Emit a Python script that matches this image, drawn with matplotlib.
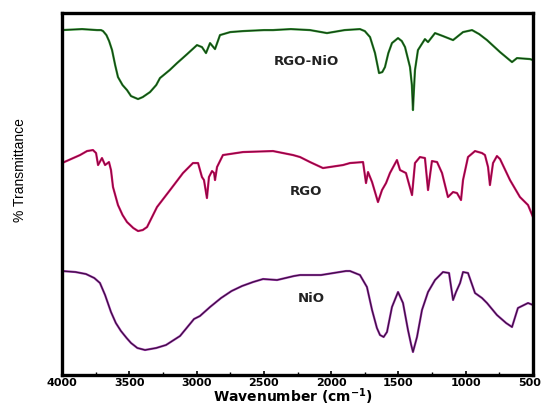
import matplotlib
matplotlib.use("Agg")
import matplotlib.pyplot as plt
import matplotlib.transforms as mtransforms
from matplotlib.ticker import MultipleLocator

# wavenumber (cm-1) and transmittance (arbitrary units, stacked)
wn_rgo_nio = [4000, 3851, 3740, 3710, 3695, 3670, 3650, 3628, 3605, 3584, 3550, 3517, 3487, 3435,
              3400, 3346, 3300, 3272, 3200, 3145, 3070, 2997, 2960, 2930, 2900, 2863, 2826, 2750,
              2655, 2500, 2432, 2300, 2157, 2031, 1900, 1786, 1750, 1711, 1674, 1644, 1620, 1600,
              1575, 1548, 1503, 1475, 1451, 1414, 1400, 1392, 1385, 1377, 1355, 1303, 1280, 1228,
              1169, 1094, 1020, 953, 900, 842, 745, 656, 619, 522, 500]
t_rgo_nio = [345, 346, 345, 345, 344, 340, 334, 325, 310, 298, 290, 285, 279, 276,
             278, 283, 290, 297, 305, 312, 321, 330, 328, 322, 332, 326, 340, 343,
             344, 345, 345, 346, 345, 342, 345, 346, 344, 338, 322, 302, 303, 308,
             322, 332, 337, 334, 328, 308, 290, 265, 285, 305, 325, 336, 333, 342,
             339, 335, 343, 345, 341, 335, 323, 313, 317, 316, 315]

wn_rgo = [4000, 3866, 3814, 3770, 3747, 3732, 3703, 3680, 3651, 3636, 3621, 3584, 3550, 3517,
          3470, 3435, 3400, 3368, 3294, 3197, 3101, 3027, 2989, 2960, 2945, 2923, 2908, 2885,
          2870, 2863, 2848, 2804, 2655, 2432, 2283, 2231, 2157, 2061, 1912, 1860, 1763, 1741,
          1726, 1696, 1652, 1622, 1592, 1563, 1511, 1488, 1444, 1399, 1377, 1340, 1303, 1280,
          1251, 1213, 1176, 1132, 1094, 1065, 1035, 1020, 983, 931, 879, 857, 834, 820,
          797, 768, 745, 671, 597, 537, 500]
t_rgo = [212, 220, 224, 225, 222, 210, 217, 210, 213, 205, 188, 170, 160, 153,
         147, 144, 145, 148, 168, 185, 202, 212, 212, 198, 195, 177, 198, 204,
         202, 195, 208, 220, 223, 224, 220, 218, 213, 207, 210, 212, 213, 192,
         203, 193, 173, 185, 192, 202, 215, 205, 202, 180, 212, 218, 217, 185,
         214, 213, 202, 178, 183, 182, 175, 195, 218, 224, 222, 220, 208, 190,
         212, 219, 216, 195, 178, 170, 158]

wn_nio = [4000, 3900, 3822, 3760, 3718, 3680, 3636, 3600, 3562, 3520, 3487, 3440, 3383, 3300,
          3227, 3123, 3019, 2975, 2900, 2818, 2740, 2662, 2580, 2506, 2402, 2276, 2231, 2075,
          1890, 1860, 1786, 1734, 1696, 1660, 1637, 1610, 1585, 1548, 1503, 1466, 1429, 1405,
          1392, 1362, 1325, 1280, 1228, 1169, 1124, 1094, 1072, 1042, 1020, 983, 931, 879,
          842, 768, 700, 656, 612, 537, 500]
t_nio = [104, 103, 101, 97, 92, 80, 63, 52, 44, 37, 32, 27, 25, 27,
         30, 39, 56, 59, 68, 77, 84, 89, 93, 96, 95, 99, 100, 100,
         104, 104, 100, 88, 65, 47, 40, 38, 43, 68, 83, 72, 45, 30,
         23, 38, 65, 83, 95, 103, 102, 75, 83, 92, 103, 102, 82, 77,
         72, 60, 52, 48, 67, 72, 70]

labels = ["RGO-NiO", "RGO", "NiO"]
label_pos = [(2187, 314), (2187, 184), (2150, 77)]
xticks = [4000, 3500, 3000, 2500, 2000, 1500, 1000, 500]

fig = plt.figure(figsize=(5.42, 4.08), dpi=100)
ax = fig.add_axes([0.1144, 0.0809, 0.869, 0.887])

# coloured halo with dark core, like the scanned original
for wn, t, col, core in [(wn_rgo_nio, t_rgo_nio, "#2f8f2f", "#0b2a0b"),
                         (wn_rgo, t_rgo, "#d8106a", "#6e0a35"),
                         (wn_nio, t_nio, "#9a30a8", "#1e0820")]:
    ax.plot(wn, t, color=col, lw=1.6, solid_joinstyle="round")
    ax.plot(wn, t, color=core, lw=0.7, alpha=0.85, solid_joinstyle="round")

for lab, (x, y) in zip(labels, label_pos):
    ax.text(x, y, lab, ha="center", va="center", fontsize=9.5, fontweight="bold",
            family="DejaVu Sans", color="#222222")

ax.set_xticks(xticks)
ax.xaxis.set_minor_locator(MultipleLocator(250))
ax.set_xlim(4000, 500)
ax.set_ylim(0, 362)
ax.set_yticks([])
ax.tick_params(axis="x", which="both", direction="in", top=False, pad=2)
ax.tick_params(axis="x", which="major", length=3, width=1.2)
ax.tick_params(axis="x", which="minor", length=2, width=1.0)
ticklabs = ax.get_xticklabels()
for lab in ticklabs:
    lab.set_fontweight("bold")
    lab.set_fontsize(8)
    lab.set_family("DejaVu Sans")
# last label sits at the right edge of the figure
ticklabs[-1].set_horizontalalignment("right")
ticklabs[-1].set_transform(ticklabs[-1].get_transform() +
                           mtransforms.ScaledTranslation(0.08, 0, fig.dpi_scale_trans))
for s in ax.spines.values():
    s.set_linewidth(2.4)

fig.text(0.54, 0.002, "Wavenumber (cm$^{\\mathbf{-1}}$)", ha="center", va="bottom",
         fontsize=10, fontweight="bold", family="DejaVu Sans")
fig.text(0.037, 0.583, "% Transmittance", rotation=90, ha="center", va="center",
         fontsize=10, family="Liberation Sans")

fig.savefig("out.png", dpi=100)
